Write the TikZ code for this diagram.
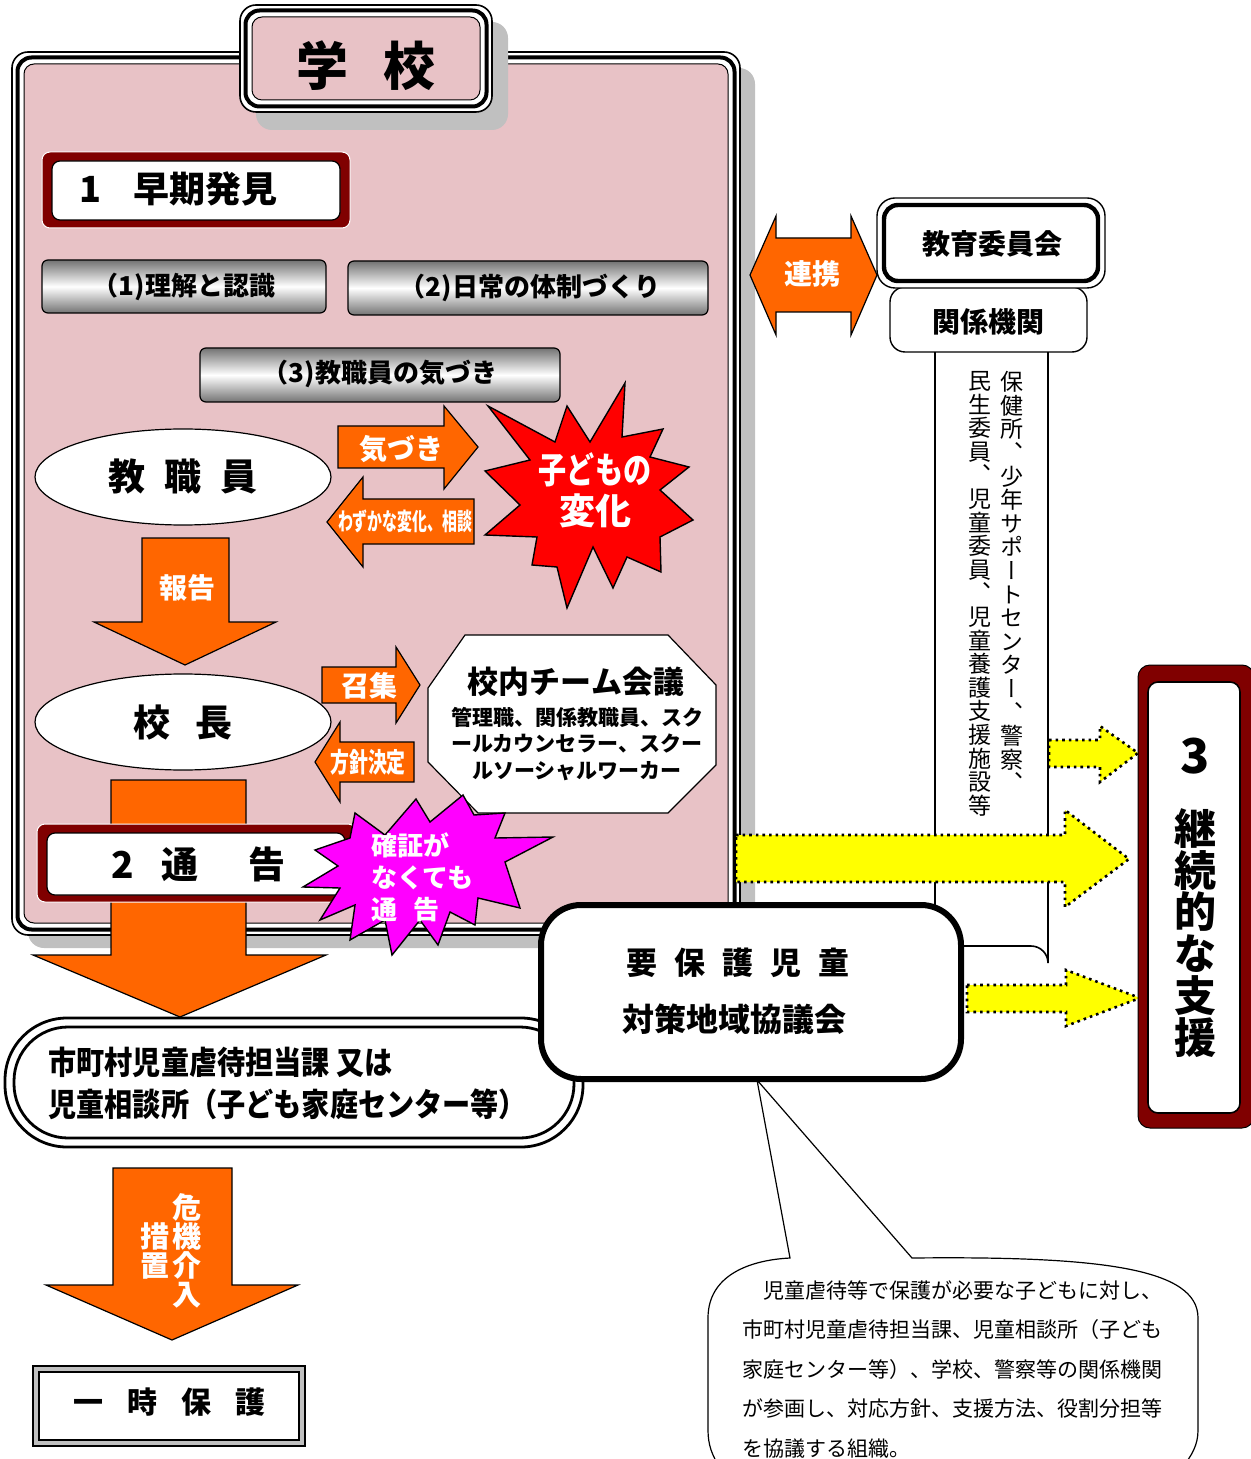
\documentclass[tikz,border=0pt]{standalone}
\usepackage{fontspec}
\usepackage{graphicx}
\setmainfont{Noto Sans CJK JP}
\newfontfamily\jpv{Noto Sans CJK JP}[RawFeature=+vert]
\usetikzlibrary{shapes.geometric}
\definecolor{pinkbg}{RGB}{232,194,198}
\definecolor{orng}{RGB}{255,102,0}
\definecolor{dred}{RGB}{128,0,0}
\definecolor{shad}{RGB}{192,192,192}
\definecolor{ylw}{RGB}{255,255,0}
\definecolor{mgt}{RGB}{255,0,255}
\definecolor{btngray}{RGB}{115,115,115}
\newcommand\fz[2]{\fontsize{#1pt}{#2pt}\selectfont}
\begin{document}
\begin{tikzpicture}[x=0.5pt,y=-0.5pt,
  orarrow/.style={fill=orng,draw=black,line width=0.6pt},
  yarrow/.style={fill=ylw,draw=black,dotted,line width=1.3pt},
  wtext/.style={text=white,inner sep=0pt},
  btn/.style={rounded corners=3pt,top color=btngray,bottom color=btngray,middle color=white,draw=black,line width=0.6pt},
  oval/.style={ellipse,draw,fill=white,line width=0.6pt,minimum width=148pt,minimum height=48pt,inner sep=0pt}]
\path[use as bounding box] (0,0) rectangle (1250,1459);
\fill[white] (0,0) rectangle (1250,1459);

% ---------- school frame ----------
\fill[shad,rounded corners=8pt] (28,68) rectangle (755,948);
\draw[fill=white,line width=0.8pt,rounded corners=8pt] (12,52) rectangle (740,935);
\draw[line width=2pt,rounded corners=7pt] (17.5,57.5) rectangle (734.5,929.5);
\draw[fill=pinkbg,line width=0.5pt,rounded corners=5pt] (24,64) rectangle (728,923);

% title
\fill[shad,rounded corners=8pt] (256,22) rectangle (508,130);
\draw[fill=white,line width=0.8pt,rounded corners=8pt] (240,5) rectangle (492,112);
\draw[line width=2pt,rounded corners=7pt] (245.5,10.5) rectangle (486.5,106.5);
\draw[fill=pinkbg,line width=0.5pt,rounded corners=5pt] (252,17) rectangle (480,100);
\node[font=\bfseries\fz{26}{26}] (gakko) at (366,66) {学\hspace{18pt}校};

% 1 early detection
\draw[fill=dred,draw=white,line width=0.5pt,rounded corners=4pt] (42,152) rectangle (350,228);
\draw[fill=white,line width=0.6pt,rounded corners=4pt] (52,161) rectangle (340,220);
\node[font=\bfseries\fz{18}{18},anchor=west,inner sep=0pt] (soki) at (79,189) {1\hspace{16pt}早期発見};

% buttons
\draw[btn] (42,260) rectangle (326,313);
\node[font=\bfseries\fz{13}{13}] (b1) at (184,287) {（1)理解と認識};
\draw[btn] (348,261) rectangle (708,315);
\node[font=\bfseries\fz{13}{13}] (b2) at (530,288) {（2)日常の体制づくり};
\draw[btn] (200,348) rectangle (560,402);
\node[font=\bfseries\fz{13}{13}] (b3) at (380,374) {（3)教職員の気づき};

% teachers
\node[oval,font=\bfseries\fz{18.5}{18.5}] (kyoshoku) at (183,477) {教\hspace{9.5pt}職\hspace{9.5pt}員};

% kizuki arrow
\draw[orarrow] (338,426) -- (444,426) -- (444,406) -- (478,447) -- (444,489) -- (444,468) -- (338,468) -- cycle;
\node[wtext,font=\bfseries\fz{14}{14}] (kizuki) at (401,449) {気づき};
% wazuka arrow
\draw[orarrow] (327,522) -- (363,477) -- (363,499) -- (474,499) -- (474,544) -- (363,544) -- (363,567) -- cycle;
\node[wtext,font=\bfseries\fz{12}{12}] (wazuka) at (405,521) {\scalebox{0.62}[1]{わずかな変化、相談}};

% red star
\draw[fill=red,line width=0.7pt] (625,383) -- (622,437) -- (663,429) -- (650,457) -- (689,467) -- (660,490) -- (693,520) -- (660,537) -- (661,572) -- (627,557) -- (613,588) -- (593,547) -- (567,608) -- (557,567) -- (532,565) -- (537,537) -- (485,535) -- (520,505) -- (485,471) -- (530,460) -- (488,406) -- (555,442) -- (567,406) -- (590,442) -- cycle;
\node[wtext,font=\bfseries\fz{18}{20.5},align=center] (henka) at (595,490) {\scalebox{0.78}[1]{子どもの}\\変化};

% report arrow
\draw[orarrow] (142,538) -- (229,538) -- (229,622) -- (276,622) -- (185,665) -- (94,622) -- (142,622) -- cycle;
\node[wtext,font=\bfseries\fz{14}{14}] (hokoku) at (187,588) {報告};

% principal
\node[oval,font=\bfseries\fz{18.5}{18.5}] (kocho) at (183,722) {校\hspace{12.5pt}長};

% shoshu arrow
\draw[orarrow] (322,667) -- (396,667) -- (396,647) -- (420,685) -- (396,723) -- (396,703) -- (322,703) -- cycle;
\node[wtext,font=\bfseries\fz{14}{14}] (shoshu) at (369,686) {召集};
% hoshin arrow
\draw[orarrow] (315,762) -- (340,722) -- (340,742) -- (414,742) -- (414,782) -- (340,782) -- (340,802) -- cycle;
\node[wtext,font=\bfseries\fz{13.5}{13.5}] (hoshin) at (368,762) {\scalebox{0.7}[1]{方針決定}};

% team meeting octagon
\draw[fill=white,line width=0.6pt] (465,635) -- (668,635) -- (716,685) -- (716,765) -- (668,813) -- (478,813) -- (428,762) -- (428,688) -- cycle;
\node[font=\bfseries\fz{15.5}{15.5}] (team) at (576,682) {校内チーム会議};
\node[font=\bfseries\fz{10.5}{13.3},align=center] (teamm) at (577,744) {管理職、関係教職員、スク\\ールカウンセラー、スクー\\ルソーシャルワーカー};

% big orange arrow
\draw[orarrow] (111,780) -- (246,780) -- (246,955) -- (326,955) -- (180,1017) -- (33,955) -- (111,955) -- cycle;

% 2 notification
\draw[fill=dred,draw=white,line width=0.5pt,rounded corners=4pt] (37,824) rectangle (356,902);
\draw[fill=white,line width=0.6pt,rounded corners=4pt] (47,833) rectangle (345,895);
\node[font=\bfseries\fz{18.5}{18.5},anchor=west,inner sep=0pt] (tsuko) at (111,864) {2\hspace{14pt}通\hspace{25pt}告};

% magenta star
\draw[fill=mgt,line width=0.7pt] (355,813) -- (385,835) -- (416,799) -- (430,822) -- (463,795) -- (474,815) -- (505,813) -- (495,838) -- (553,837) -- (505,862) -- (520,908) -- (478,898) -- (475,925) -- (450,912) -- (438,945) -- (420,920) -- (392,955) -- (385,920) -- (350,940) -- (355,905) -- (320,920) -- (340,888) -- (303,887) -- (338,866) -- (315,850) -- (350,838) -- cycle;
\node[wtext,font=\bfseries\fz{13}{16},align=left,anchor=north west] (kakusho) at (371,832) {確証が\\なくても\\通\hspace{8pt}告};

% related agencies column
\draw[fill=white,line width=0.8pt] (935,352) -- (935,946) -- (1031,946) arc[start angle=90,end angle=0,radius=8.5pt] -- (1048,352);
\node[font=\jpv\fz{11.5}{11.8},align=center,anchor=north,inner sep=0pt] (col1) at (1012,371) {保\\健\\所\\、\\少\\年\\サ\\ポ\\ー\\ト\\セ\\ン\\タ\\ー\\、\\警\\察\\、};
\node[font=\jpv\fz{11.5}{11.8},align=center,anchor=north,inner sep=0pt] (col2) at (980,371) {民\\生\\委\\員\\、\\児\\童\\委\\員\\、\\児\\童\\養\\護\\支\\援\\施\\設\\等};
\draw[fill=white,line width=0.7pt,rounded corners=7.5pt] (890,287) rectangle (1087,352);
\node[font=\bfseries\fz{14}{14}] (kankei) at (988,322) {関係機関};
\draw[fill=white,line width=0.7pt,rounded corners=9pt] (877,198) rectangle (1105,288);
\draw[line width=2.2pt,rounded corners=7pt] (884,205) rectangle (1098,281);
\node[font=\bfseries\fz{14}{14}] (kyoiku) at (992,244) {教育委員会};

% renkei double arrow
\draw[orarrow] (750,275) -- (776,216) -- (776,238) -- (851,238) -- (851,216) -- (877,275) -- (851,335) -- (851,312) -- (776,312) -- (776,335) -- cycle;
\node[wtext,font=\bfseries\fz{14}{14}] (renkei) at (812,274) {連携};

% yellow arrows
\draw[yarrow] (1049,740) -- (1100,740) -- (1100,726) -- (1138,753) -- (1100,782) -- (1100,767) -- (1049,767) -- cycle;
\draw[yarrow] (736,835) -- (1065,835) -- (1065,810) -- (1129,859) -- (1065,907) -- (1065,882) -- (736,882) -- cycle;
\draw[yarrow] (967,985) -- (1066,985) -- (1066,970) -- (1140,998) -- (1066,1026) -- (1066,1012) -- (967,1012) -- cycle;

% 3 continued support
\draw[fill=dred,line width=0.5pt,rounded corners=6pt] (1138,665) rectangle (1254,1128);
\draw[fill=white,line width=0.8pt,rounded corners=5pt] (1148,682) rectangle (1240,1113);
\node[font=\bfseries\fz{24}{24}] (three) at (1195,756) {3};
\node[font=\bfseries\fz{21}{20.9},align=center,anchor=north,inner sep=0pt] (keizoku) at (1195,808) {継\\続\\的\\な\\支\\援};

% callout
\draw[fill=white,line width=0.6pt] (790,1258) -- (757,1080) -- (912,1258) .. controls (1100,1256) and (1198,1268) .. (1198,1318) -- (1198,1430) .. controls (1198,1445) and (1192,1455) .. (1182,1468) -- (720,1468) .. controls (712,1455) and (708,1445) .. (708,1430) -- (708,1318) .. controls (708,1275) and (750,1260) .. (790,1258) -- cycle;
\node[font=\fz{10.5}{19.75},align=left,anchor=north west,inner sep=0pt] (callout) at (742,1280) {　児童虐待等で保護が必要な子どもに対し、\\市町村児童虐待担当課、児童相談所（子ども\\家庭センター等）、学校、警察等の関係機関\\が参画し、対応方針、支援方法、役割分担等\\を協議する組織。};

% municipal box
\draw[fill=white,line width=1.4pt,rounded corners=31pt] (5,1018) rectangle (583,1147);
\draw[line width=1.4pt,rounded corners=27pt] (14,1027) rectangle (574,1138);
\node[font=\bfseries\fz{16}{16},anchor=west,inner sep=0pt] (shi1) at (48,1062) {\scalebox{0.88}[1]{市町村児童虐待担当課 又は}};
\node[font=\bfseries\fz{16}{16},anchor=west,inner sep=0pt] (shi2) at (48,1104) {\scalebox{0.88}[1]{児童相談所（子ども家庭センター等）}};

% regional council
\draw[fill=white,line width=3pt,rounded corners=20pt] (541,905) rectangle (961,1079);
\node[font=\bfseries\fz{15.5}{15.5}] (yoho1) at (738,963) {要\hspace{8.5pt}保\hspace{8.5pt}護\hspace{8.5pt}児\hspace{8.5pt}童};
\node[font=\bfseries\fz{16}{16}] (yoho2) at (734,1019) {対策地域協議会};

% crisis intervention arrow
\draw[orarrow] (113,1168) -- (232,1168) -- (232,1285) -- (298,1285) -- (172,1340) -- (46,1285) -- (113,1285) -- cycle;
\node[wtext,font=\bfseries\fz{14.5}{14.5},align=center,anchor=north] (kiki) at (187,1193) {危\\機\\介\\入};
\node[wtext,font=\bfseries\fz{14.5}{14.5},align=center,anchor=north] (sochi) at (155,1222) {措\\置};

% temporary protection
\draw[fill=shad,line width=0.8pt] (33,1366) rectangle (305,1446);
\draw[fill=white,line width=0.8pt] (39,1372) rectangle (299,1440);
\node[font=\bfseries\fz{15}{15}] (ichiji) at (169,1402) {一\hspace{12pt}時\hspace{12pt}保\hspace{12pt}護};
\end{tikzpicture}
\end{document}
